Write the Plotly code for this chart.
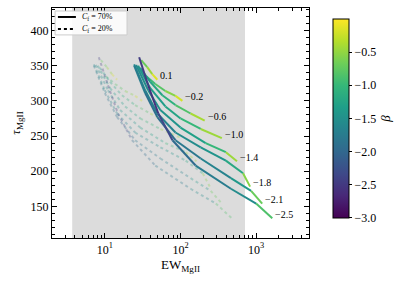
import numpy as np
import plotly.graph_objects as go
from plotly.colors import sample_colorscale

# ---- data ----
labels = ["0.1", "−0.2", "−0.6", "−1.0", "−1.4", "−1.8", "−2.1", "−2.5"]

# C_f = 70% (solid)
s_x = [
    [30.2, 36.3, 42.3, 49.4],
    [35.2, 46.4, 63.1, 85.8, 106],
    [29.3, 39.8, 57.5, 85.8, 136, 209],
    [27.5, 39.8, 63.1, 100, 185, 352],
    [25.9, 37.4, 54.1, 100, 215, 398, 558],
    [24.4, 34.1, 49.4, 85.8, 185, 398, 671, 832],
    [24.4, 34.1, 49.4, 85.8, 185, 464, 858, 1202],
    [28.4, 37.4, 50.9, 78.3, 158.5, 464, 1000, 1635],
]
s_y = [
    [358, 348, 338, 330],
    [335, 324, 314, 307, 300],
    [347, 327, 308, 294, 282, 272],
    [350, 318, 292, 275, 260, 247],
    [351, 315, 287, 262, 240, 227, 214],
    [352, 315, 282, 255, 234, 215, 197, 178],
    [350, 311, 277, 244, 218, 190, 172, 154],
    [362, 322, 282, 244, 208, 175, 154, 133],
]
s_beta = [
    [-0.8, -0.6, -0.3, 0.0],
    [-1.0, -0.9, -0.7, -0.4, 0.0],
    [-1.5, -1.3, -1.2, -1.0, -0.7, -0.1],
    [-1.5, -1.4, -1.3, -1.2, -0.8, -0.1],
    [-1.6, -1.5, -1.5, -1.4, -1.2, -0.8, -0.1],
    [-1.6, -1.6, -1.7, -1.6, -1.5, -1.4, -1.0, -0.1],
    [-1.7, -1.8, -2.0, -1.9, -1.7, -1.6, -1.2, -0.2],
    [-2.4, -2.5, -2.6, -2.1, -1.8, -1.7, -1.4, -0.3],
]

# C_f = 20% (dotted)
d_x = [
    [8.85, 10.6, 12.4, 14.5],
    [10.3, 13.6, 18.5, 25.1, 31.1],
    [8.58, 11.7, 16.8, 25.1, 39.8, 61.2],
    [8.06, 11.7, 18.5, 29.3, 54.2, 103],
    [7.59, 11.0, 15.9, 29.3, 63.0, 117, 163],
    [7.15, 9.99, 14.5, 25.1, 54.2, 117, 197, 244],
    [7.15, 9.99, 14.5, 25.1, 54.2, 136, 251, 352],
    [8.32, 11.0, 14.9, 22.9, 46.4, 136, 293, 479],
]
d_y = [
    [358, 348, 338, 330],
    [335, 324, 314, 307, 300],
    [347, 327, 308, 294, 282, 272],
    [350, 318, 292, 275, 260, 247],
    [351, 315, 287, 262, 240, 227, 214],
    [352, 315, 282, 255, 234, 215, 197, 178],
    [350, 311, 277, 244, 218, 190, 172, 154],
    [362, 322, 282, 244, 208, 175, 154, 133],
]
d_beta = s_beta

legend_labels = ["<i>C</i><sub>f</sub> = 70%", "<i>C</i><sub>f</sub> = 20%"]
band_x = [3.7, 713]
beta_min, beta_max = -3.0, 0.0
cbar_ticks = [-3.0, -2.5, -2.0, -1.5, -1.0, -0.5]

FONT = "Liberation Serif"

fig = go.Figure()

# grey band
fig.add_trace(go.Scatter(x=[band_x[0], band_x[1], band_x[1], band_x[0], band_x[0]],
                         y=[100, 100, 440, 440, 100], fill="toself",
                         fillcolor="#dcdcdc", line=dict(width=0), mode="lines",
                         hoverinfo="skip", showlegend=False))


def col(b):
    return sample_colorscale("Viridis", [(b - beta_min) / (beta_max - beta_min)])[0]


def add_curve(xs, ys, bs, dash, opacity):
    for i in range(len(xs) - 1):
        b = 0.5 * (bs[i] + bs[i + 1])
        fig.add_trace(go.Scatter(x=xs[i:i + 2], y=ys[i:i + 2], mode="lines",
                                 line=dict(color=col(b), width=2, dash=dash),
                                 opacity=opacity, showlegend=False, hoverinfo="skip"))


for xs, ys, bs in zip(d_x, d_y, d_beta):
    add_curve(xs, ys, bs, "dot", 0.3)
for xs, ys, bs in zip(s_x, s_y, s_beta):
    add_curve(xs, ys, bs, "solid", 1.0)

# labels at the tips
for xs, ys, lab in zip(s_x, s_y, labels):
    fig.add_annotation(x=np.log10(xs[-1]), y=ys[-1], text=lab, showarrow=False,
                       xanchor="left", yanchor="middle", xshift=1, yshift=4,
                       font=dict(family=FONT, size=10, color="black"))

# compact legend box (matplotlib style)
fig.add_shape(type="rect", xref="paper", yref="paper", x0=0.012, x1=0.292, y0=0.883, y1=0.987,
              line=dict(color="#cccccc", width=1), fillcolor="rgba(255,255,255,0.85)", layer="above")
for yy, dash, lab in zip([0.961, 0.909], ["solid", "dot"], legend_labels):
    fig.add_shape(type="line", xref="paper", yref="paper", x0=0.023, x1=0.093, y0=yy, y1=yy,
                  line=dict(color="black", width=2, dash=dash), layer="above")
    fig.add_annotation(xref="paper", yref="paper", x=0.109, y=yy, text=lab, showarrow=False,
                       xanchor="left", yanchor="middle", font=dict(family=FONT, size=8, color="black"))

# colorbar
fig.add_trace(go.Scatter(x=[None], y=[None], mode="markers", showlegend=False,
                         marker=dict(color=[beta_min], cmin=beta_min, cmax=beta_max,
                                     colorscale="Viridis", showscale=True,
                                     colorbar=dict(x=1.054, xanchor="left", y=0.52, yanchor="middle",
                                                   len=0.952, lenmode="fraction", thickness=16,
                                                   outlinewidth=1, outlinecolor="black",
                                                   tickvals=cbar_ticks,
                                                   ticktext=[f"{v:.1f}".replace("-", "−") for v in cbar_ticks],
                                                   ticks="outside", ticklen=3, tickcolor="black",
                                                   tickfont=dict(family=FONT, size=12, color="black"),
                                                   title=dict(text="<i>β</i>", side="right",
                                                              font=dict(family=FONT, size=13))))))

minor_x = [m * 10 ** e for e in range(0, 4) for m in range(2, 10) if 2 <= m * 10 ** e <= 5000]

fig.update_xaxes(type="log", range=[np.log10(2), np.log10(5000)], automargin=False,
                 tickvals=[10, 100, 1000], ticktext=["10<sup>1</sup>", "10<sup>2</sup>", "10<sup>3</sup>"],
                 ticks="inside", ticklen=5, tickcolor="black", mirror="allticks",
                 showline=True, linecolor="black", linewidth=1.2, showgrid=False, zeroline=False,
                 minor=dict(tickvals=minor_x, ticks="inside", ticklen=3, tickcolor="black", showgrid=False),
                 tickfont=dict(family=FONT, size=12, color="black"),
                 title=dict(text="EW<sub>MgII</sub>", font=dict(family=FONT, size=13, color="black"),
                            standoff=4))
fig.update_yaxes(range=[105, 432], tickvals=[150, 200, 250, 300, 350, 400], automargin=False,
                 ticks="inside", ticklen=5, tickcolor="black", mirror="allticks",
                 showline=True, linecolor="black", linewidth=1.2, showgrid=False, zeroline=False,
                 minor=dict(dtick=10, ticks="inside", ticklen=3, tickcolor="black", showgrid=False),
                 tickfont=dict(family=FONT, size=12, color="black"),
                 title=dict(text="<i>τ</i><sub>MgII</sub>", font=dict(family=FONT, size=13, color="black"),
                            standoff=6))

fig.update_layout(width=399, height=283, margin=dict(l=52, r=90, t=8, b=45, autoexpand=False),
                  paper_bgcolor="white", plot_bgcolor="white",
                  font=dict(family=FONT, color="black"), showlegend=False)

fig.write_html("out.html", config={"displayModeBar": False},
               post_script="document.body.style.margin='0';document.body.style.padding='0';")
